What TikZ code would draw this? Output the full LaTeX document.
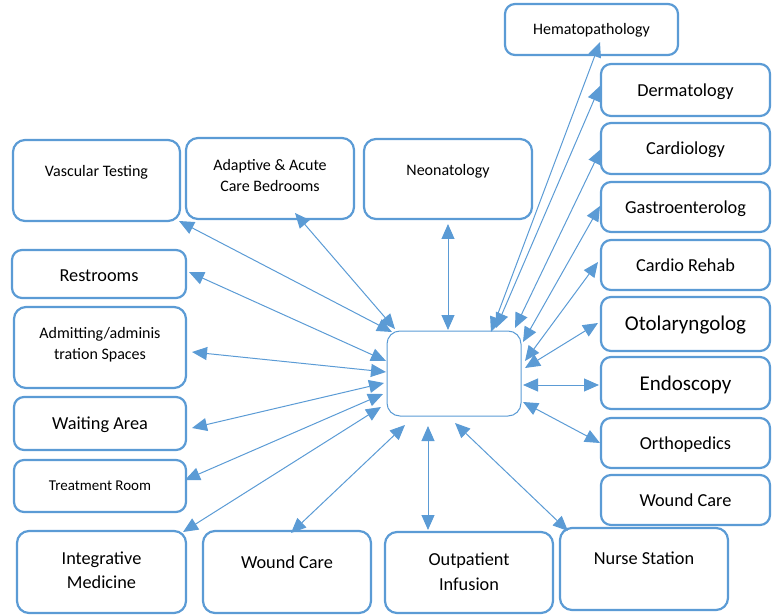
\documentclass[tikz,border=0pt]{standalone}
\usepackage{fontspec}
\setmainfont{Carlito}
\usetikzlibrary{arrows.meta}
\definecolor{boxblue}{RGB}{91,155,213}
\begin{document}
\begin{tikzpicture}[x=1pt,y=-1pt,
  box/.style={draw=boxblue, line width=2.2pt, rounded corners=12pt, inner sep=0pt},
  hubbox/.style={draw=boxblue, line width=1pt, rounded corners=13pt, inner sep=0pt},
  lbl/.style={inner sep=0pt, yshift=-3pt, text height=0.644em, text depth=0pt, font=\fontsize{18.3}{22}\selectfont},
  lblS/.style={lbl, font=\fontsize{16}{20}\selectfont},
  lblT/.style={lbl, font=\fontsize{15}{19}\selectfont},
  lblL/.style={lbl, font=\fontsize{21}{25}\selectfont},
  conn/.style={draw=boxblue, line width=1pt, {Triangle[length=15pt,width=13pt]}-{Triangle[length=15pt,width=13pt]}}
]
\useasboundingbox (0,0) rectangle (772,615);
% boxes
\node[box, minimum width=167pt, minimum height=81pt] (vasc) at (96.5,180.5) {};
\node[box, minimum width=168pt, minimum height=81pt] (adapt) at (270,178.5) {};
\node[box, minimum width=168pt, minimum height=80pt] (neo) at (448,179) {};
\node[box, rounded corners=10pt, minimum width=173pt, minimum height=51pt] (hemato) at (591.5,29.5) {};
\node[box, rounded corners=10pt, minimum width=169pt, minimum height=52pt] (derm) at (685.5,90) {};
\node[box, rounded corners=10pt, minimum width=169pt, minimum height=51pt] (cardio) at (685.5,148.5) {};
\node[box, rounded corners=10pt, minimum width=169pt, minimum height=50pt] (gastro) at (685.5,207) {};
\node[box, rounded corners=10pt, minimum width=169pt, minimum height=50pt] (rehab) at (685.5,265) {};
\node[box, rounded corners=10pt, minimum width=169pt, minimum height=54pt] (oto) at (685.5,324) {};
\node[box, rounded corners=10pt, minimum width=169pt, minimum height=52pt] (endo) at (685.5,383) {};
\node[box, rounded corners=10pt, minimum width=169pt, minimum height=50pt] (ortho) at (685.5,443) {};
\node[box, rounded corners=10pt, minimum width=169pt, minimum height=50pt] (woundR) at (685.5,500) {};
\node[box, minimum width=168pt, minimum height=82pt] (nurse) at (644,569) {};
\node[box, minimum width=168pt, minimum height=81pt] (outpat) at (469,572.5) {};
\node[box, minimum width=168pt, minimum height=82pt] (woundB) at (287,572) {};
\node[box, minimum width=169pt, minimum height=82pt] (integ) at (101.5,572) {};
\node[box, rounded corners=10pt, minimum width=172pt, minimum height=52pt] (treat) at (100,486) {};
\node[box, rounded corners=10pt, minimum width=172pt, minimum height=53pt] (wait) at (100,423.5) {};
\node[box, minimum width=172pt, minimum height=81pt] (admit) at (100,347.5) {};
\node[box, rounded corners=10pt, minimum width=174pt, minimum height=48pt] (rest) at (99,274) {};
\node[hubbox, minimum width=134pt, minimum height=85pt] (hub) at (454,373.5) {};
% labels
\node[lblS] (vasc-t) at (96.5,170) {Vascular Testing};
\node[lblS] (adapt-t1) at (270,164) {Adaptive \& Acute};
\node[lblS] (adapt-t2) at (270,185) {Care Bedrooms};
\node[lblS] (neo-t) at (448,169) {Neonatology};
\node[lblS] (hemato-t) at (591.5,28) {Hematopathology};
\node[lbl] (derm-t) at (685.5,90) {Dermatology};
\node[lbl] (cardio-t) at (685.5,148) {Cardiology};
\node[lbl] (gastro-t) at (685.5,207) {Gastroenterolog};
\node[lbl] (rehab-t) at (685.5,265) {Cardio Rehab};
\node[lblL] (oto-t) at (685.5,324) {Otolaryngolog};
\node[lblL] (endo-t) at (685.5,384) {Endoscopy};
\node[lbl] (ortho-t) at (685.5,443) {Orthopedics};
\node[lbl] (woundR-t) at (685.5,500) {Wound Care};
\node[lbl] (nurse-t) at (644,558) {Nurse Station};
\node[lbl] (outpat-t1) at (469,559) {Outpatient};
\node[lbl] (outpat-t2) at (469,584) {Infusion};
\node[lbl] (woundB-t) at (287,562) {Wound Care};
\node[lbl] (integ-t1) at (101.5,558) {Integrative};
\node[lbl] (integ-t2) at (101.5,582) {Medicine};
\node[lblT] (treat-t) at (100,484) {Treatment Room};
\node[lbl] (wait-t) at (100,423) {Waiting Area};
\node[lblS] (admit-t1) at (100,332) {Admitting/adminis};
\node[lblS] (admit-t2) at (100,353) {tration Spaces};
\node[lbl] (rest-t) at (99,275) {Restrooms};
% connector end points
\coordinate (vasc-a) at (179,221);   \coordinate (vasc-b) at (392,332);
\coordinate (adapt-a) at (295,213);  \coordinate (adapt-b) at (395,329);
\coordinate (rest-a) at (189,272);   \coordinate (rest-b) at (386,361);
\coordinate (admit-a) at (192,352);  \coordinate (admit-b) at (386,372);
\coordinate (wait-a) at (192,428);   \coordinate (wait-b) at (384,383);
\coordinate (treat-a) at (185,480);  \coordinate (treat-b) at (383,394);
\coordinate (integ-a) at (183,532);  \coordinate (integ-b) at (381,407);
\coordinate (woundB-a) at (291,533); \coordinate (woundB-b) at (405,425);
\coordinate (outpat-a) at (428,530); \coordinate (outpat-b) at (428,426);
\coordinate (nurse-a) at (568,531);  \coordinate (nurse-b) at (455,423);
\coordinate (neo-a) at (448,224);    \coordinate (neo-b) at (448,330);
\coordinate (hemato-a) at (600,42);  \coordinate (hemato-b) at (491,332);
\coordinate (derm-a) at (600,86);    \coordinate (derm-b) at (496,328);
\coordinate (cardio-a) at (601,149); \coordinate (cardio-b) at (515,328);
\coordinate (gastro-a) at (600,206); \coordinate (gastro-b) at (523,342);
\coordinate (rehab-a) at (598,262);  \coordinate (rehab-b) at (525,361);
\coordinate (oto-a) at (598,323);    \coordinate (oto-b) at (525,368);
\coordinate (endo-a) at (599,385);   \coordinate (endo-b) at (523,385);
\coordinate (ortho-a) at (600,443);  \coordinate (ortho-b) at (523,402);
% connectors
\foreach \n in {vasc,adapt,rest,admit,wait,treat,integ,woundB,outpat,nurse,neo,hemato,derm,cardio,gastro,rehab,oto,endo,ortho}
  \draw[conn] (\n-a) -- (\n-b);
\end{tikzpicture}
\end{document}
